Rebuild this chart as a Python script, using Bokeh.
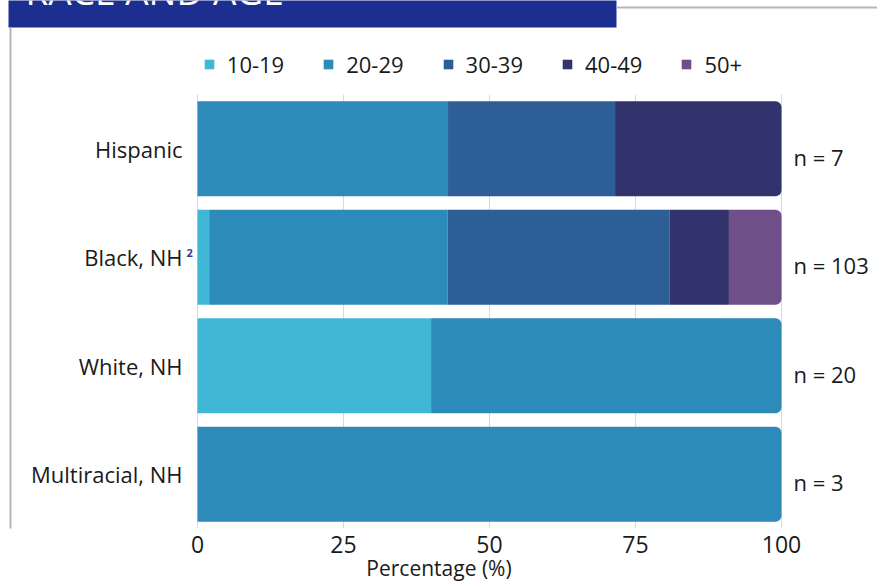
from bokeh.plotting import figure
from bokeh.models import (ColumnDataSource, Range1d, Legend, LegendItem,
                          LabelSet, BoxAnnotation, Label, FixedTicker)
from bokeh.core.properties import value
from bokeh.embed import file_html
from bokeh.resources import INLINE

# ---------------- data ----------------
categories = ["Hispanic", "Black, NH", "White, NH", "Multiracial, NH"]
age_groups = ["10-19", "20-29", "30-39", "40-49", "50+"]
pct_10_19 = [0.0, 2.0, 40.0, 0.0]
pct_20_29 = [42.9, 40.8, 60.0, 100.0]
pct_30_39 = [28.6, 38.0, 0.0, 0.0]
pct_40_49 = [28.5, 10.2, 0.0, 0.0]
pct_50_plus = [0.0, 9.0, 0.0, 0.0]
n_values = [7, 103, 20, 3]
x_ticks = [0, 25, 50, 75, 100]
title_text = "RACE AND AGE"
footnote_category = "Black, NH"
footnote_mark = "2"

colors = ["#41b7d6", "#2c8bb9", "#2d5e96", "#32336c", "#6f4f87"]
series = [pct_10_19, pct_20_29, pct_30_39, pct_40_49, pct_50_plus]

# ---------------- layout constants (pixels) ----------------
W, H = 877, 586
FB = 58                      # bottom border for the x axis
FRAME_H = H - FB             # frame spans the canvas top..FRAME_H
X0_PX, X100_PX = 197, 781    # where 0% and 100% sit
SX = (X100_PX - X0_PX) / 100.0
PITCH = 108.5                # px per category band
x_start = -X0_PX / SX
x_end = 100 + (W - X100_PX) / SX
y_start = -0.5
y_end = y_start + FRAME_H / PITCH

def px2x(cx):
    return x_start + cx / SX

def px2y(cy):
    return y_end - cy / PITCH

ypos = [len(categories) - 1 - i for i in range(len(categories))]
ymap = dict(zip(categories, ypos))

p = figure(width=W, height=H,
           x_range=Range1d(x_start, x_end), y_range=Range1d(y_start, y_end),
           output_backend="svg", toolbar_location=None,
           min_border_left=0, min_border_right=0, min_border_top=0, min_border_bottom=FB)
p.outline_line_color = None
p.background_fill_color = "white"
p.border_fill_color = "white"

# segments
body = [dict(y=[], left=[], right=[]) for _ in series]
ends = dict(y=[], left=[], right=[], color=[], group=[])
for i, cat in enumerate(categories):
    vals = [s[i] for s in series]
    last = max(j for j, v in enumerate(vals) if v > 0)
    cum = 0.0
    for j, v in enumerate(vals):
        if v <= 0:
            continue
        if j == last:
            ends["y"].append(ymap[cat]); ends["left"].append(cum)
            ends["right"].append(100.0 if cum + v > 99.5 else cum + v)
            ends["color"].append(colors[j]); ends["group"].append(j)
        else:
            body[j]["y"].append(ymap[cat]); body[j]["left"].append(cum); body[j]["right"].append(cum + v)
        cum += v

BAR_H = 0.875
body_r = []
for j, d in enumerate(body):
    r = p.hbar(y="y", left="left", right="right", height=BAR_H,
               source=ColumnDataSource(d), fill_color=colors[j], line_color=None)
    body_r.append(r)
end_r = p.hbar(y="y", left="left", right="right", height=BAR_H,
               source=ColumnDataSource(ends), fill_color="color", line_color=None,
               border_radius=(0, 6, 6, 0))

items = []
for j, g in enumerate(age_groups):
    if len(body[j]["y"]) > 0:
        items.append(LegendItem(label=g, renderers=[body_r[j]]))
    else:
        items.append(LegendItem(label=g, renderers=[end_r], index=ends["group"].index(j)))

ROW_H = 25
legend = Legend(items=items, orientation="horizontal",
                location=(202.8, FRAME_H - 79),
                padding=0, margin=0, spacing=38, label_standoff=12,
                glyph_width=12, glyph_height=12, label_height=ROW_H,
                border_line_color=None, background_fill_alpha=0,
                label_text_font="Open Sans", label_text_font_size="22px",
                label_text_color="#1a1a1a")
p.add_layout(legend)

# grid & axes
p.ygrid.grid_line_color = None
p.xgrid.ticker = FixedTicker(ticks=x_ticks)
p.xgrid.grid_line_color = "#d9d9d9"
p.xgrid.grid_line_width = 1
p.xgrid.cross_bounds = (y_start, len(categories) - 0.5)
p.yaxis.visible = False
p.xaxis.ticker = FixedTicker(ticks=x_ticks)
p.xaxis.axis_line_color = None
p.xaxis.major_tick_line_color = None
p.xaxis.minor_tick_line_color = None
p.xaxis.major_tick_out = 0
p.xaxis.major_tick_in = 0
p.xaxis.major_label_text_font = "Open Sans"
p.xaxis.major_label_text_font_size = "23px"
p.xaxis.major_label_text_color = "#1a1a1a"
p.xaxis.major_label_standoff = 7
p.xaxis.axis_label = "Percentage (%)"
p.xaxis.axis_label_text_font = "Open Sans"
p.xaxis.axis_label_text_font_size = "21px"
p.xaxis.axis_label_text_font_style = "normal"
p.xaxis.axis_label_text_color = "#1a1a1a"
p.xaxis.axis_label_standoff = -2

# category labels (placed through the y scale)
cat_src = ColumnDataSource(dict(y=ypos, x=[0] * len(categories), text=categories))
p.add_layout(LabelSet(x="x", y="y", text="text", source=cat_src, x_offset=-15, y_offset=0,
                      text_baseline="middle", text_align="right",
                      text_font=value("Open Sans"), text_font_size="22px",
                      text_color="#1a1a1a"))

# n labels
n_src = ColumnDataSource(dict(y=ypos, x=[100] * len(categories),
                              text=["n = %d" % n for n in n_values]))
p.add_layout(LabelSet(x="x", y="y", text="text", source=n_src, x_offset=12, y_offset=-8,
                      text_baseline="middle", text_align="left",
                      text_font=value("Open Sans"), text_font_size="22px",
                      text_color="#1a1a1a"))

# footnote superscript
fn_src = ColumnDataSource(dict(y=[ymap[footnote_category]], x=[0], text=[footnote_mark]))
p.add_layout(LabelSet(x="x", y="y", text="text", source=fn_src, x_offset=-11, y_offset=4,
                      text_baseline="middle", text_align="left",
                      text_font=value("Open Sans"), text_font_size="11px",
                      text_font_style="bold", text_color="#2e3c9e"))

# header box and frame border
def dbox(l, r, t, b, color):
    return BoxAnnotation(left=px2x(l), right=px2x(r), top=px2y(t), bottom=px2y(b),
                         fill_color=color, fill_alpha=1, line_color=None)

p.add_layout(dbox(8, 616, -5, 27, "#1c2f91"))
p.add_layout(dbox(9, 11, 27, H, "#b5b5b5"))
p.add_layout(dbox(616, W + 5, 6, 8, "#b5b5b5"))
p.add_layout(Label(x=px2x(25), y=px2y(-10), text=title_text,
                   text_color="white", text_font="Open Sans", text_font_size="37px",
                   text_baseline="alphabetic"))

open("out.html", "w").write(file_html(p, INLINE))
